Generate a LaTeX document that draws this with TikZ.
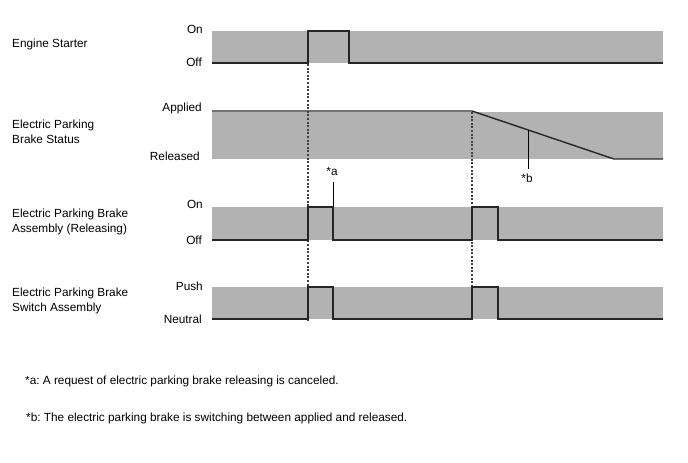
\documentclass[tikz,border=0pt]{standalone}
\usepackage{fontspec}
\setmainfont{Liberation Sans}
\frenchspacing
\begin{document}
\begin{tikzpicture}[x=1pt,y=-1pt,
  band/.style={fill=black!30,draw=none},
  sig/.style={line width=1.4pt,draw=black!85},
  guide/.style={line width=1.3pt,draw=black!75,dash pattern=on 2pt off 1.6pt},
  marker/.style={line width=1pt,draw=black},
  lbl/.style={anchor=west,align=left,inner sep=0pt,font=\fontsize{11.8}{15}\selectfont},
  lvl/.style={anchor=east,inner sep=0pt,font=\fontsize{11.8}{14}\selectfont},
  note/.style={anchor=west,inner sep=0pt,font=\fontsize{11.8}{14}\selectfont}]
\useasboundingbox[fill=white] (0,0) rectangle (688,463);
% bands
\fill[band] (212,31) rectangle (663,63);
\fill[band] (212,112) rectangle (663,159);
\fill[band] (212,207) rectangle (663,240);
\fill[band] (212,287) rectangle (663,319);
% guides
\draw[guide] (308,64) -- (308,320);
\draw[guide] (472,112) -- (472,320);
% signals
\draw[sig] (212,63) -- (308,63) -- (308,31) -- (349,31) -- (349,63) -- (663,63);
\draw[sig] (212,111) -- (472,111) -- (614,159) -- (663,159);
\draw[sig] (212,240) -- (308,240) -- (308,207) -- (333,207) -- (333,240) -- (472,240) -- (472,207) -- (498,207) -- (498,240) -- (663,240);
\draw[sig] (212,319) -- (308,319) -- (308,287) -- (333,287) -- (333,319) -- (472,319) -- (472,287) -- (498,287) -- (498,319) -- (663,319);
% markers
\coordinate (ma) at (333,207);
\coordinate (mb) at (528,130);
\node[lvl,anchor=center] (ta) at (332,171) {*a};
\node[lvl,anchor=center] (tb) at (527,178) {*b};
\draw[marker] (ma) -- (333,182);
\draw[marker] (mb) -- (528,169);
% left labels
\node[lbl] (l1) at (12,44) {Engine Starter};
\node[lbl] (l2) at (12,132) {Electric Parking\\Brake Status};
\node[lbl] (l3) at (12,222) {Electric Parking Brake\\Assembly (Releasing)};
\node[lbl] (l4) at (12,301) {Electric Parking Brake\\Switch Assembly};
% level labels
\node[lvl] (on1) at (203,29) {On};
\node[lvl] (off1) at (202,62) {Off};
\node[lvl] (ap) at (202,108) {Applied};
\node[lvl] (re) at (200,156) {Released};
\node[lvl] (on3) at (203,204) {On};
\node[lvl] (off3) at (202,240) {Off};
\node[lvl] (pu) at (203,286) {Push};
\node[lvl] (ne) at (202,319) {Neutral};
% notes
\node[note] (na) at (25,381) {*a: A request of electric parking brake releasing is canceled.};
\node[note] (nb) at (26,418) {*b: The electric parking brake is switching between applied and released.};
\end{tikzpicture}
\end{document}
